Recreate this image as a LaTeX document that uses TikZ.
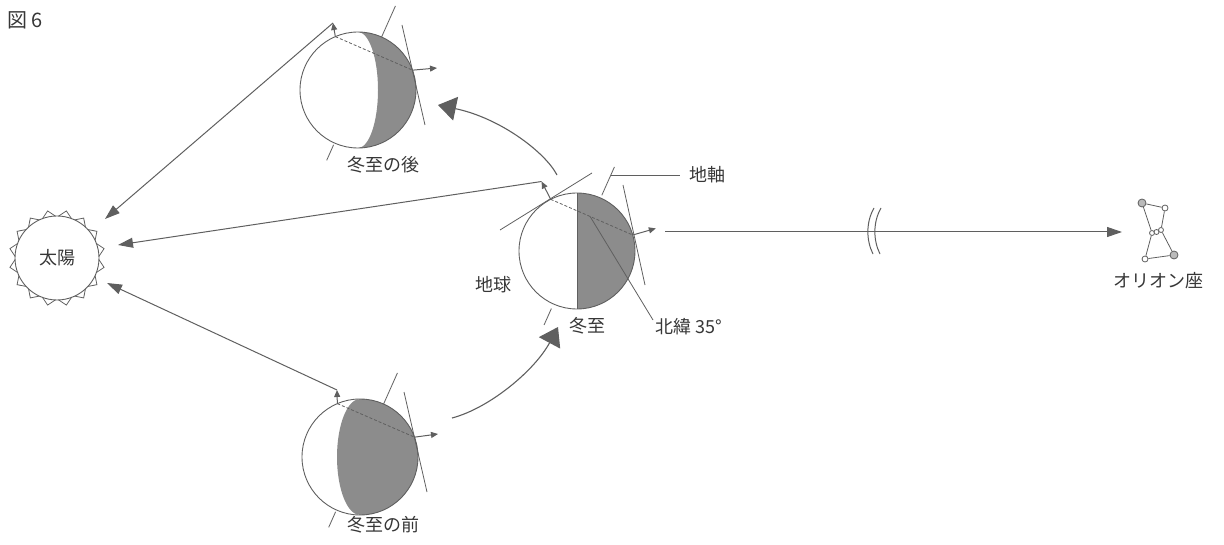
\documentclass[tikz,border=0pt]{standalone}
\usepackage{fontspec}
\newfontfamily\jp{Noto Sans CJK JP}
\usetikzlibrary{arrows.meta,calc}
\definecolor{ink}{RGB}{95,95,95}
\definecolor{nightside}{RGB}{140,140,140}
\definecolor{txt}{RGB}{55,55,55}
\tikzset{
  every node/.style={font=\jp\fontsize{18}{18}\selectfont, text=txt, inner sep=0pt},
  thinline/.style={draw=ink, line width=0.8pt},
  globe/.style={circle, draw=ink, line width=0.9pt, minimum size=116pt, inner sep=0pt},
  sunray/.style={draw=ink, line width=1pt, -{Triangle[length=15pt,width=10pt]}},
  zenith/.style={draw=ink, line width=1pt, -{Triangle[length=7pt,width=6pt]}},
  orbit/.style={draw=ink, line width=1.1pt, -{Triangle[length=18pt,width=24pt]}},
  latline/.style={draw=ink, line width=0.8pt, dash pattern=on 3pt off 2pt},
  stardot/.style={circle, draw=ink, line width=0.8pt, minimum size=6pt, inner sep=0pt, fill=white},
  bigstar/.style={stardot, minimum size=8pt, fill=nightside!60},
}
\begin{document}
\begin{tikzpicture}[x=1pt,y=1pt]
\path[use as bounding box] (0,0) rectangle (1224,-545);

% figure number
\node[anchor=west, font=\jp\fontsize{20}{20}\selectfont] (fignum) at (7,-20) {図 6};

% ---- the Sun ----
\begin{scope}[shift={(57,-258)}]
  \foreach \a in {11.25,33.75,56.25,78.75}
    \draw[thinline] (\a:48) -- (\a+90:48) -- (\a+180:48) -- (\a+270:48) -- cycle;
\end{scope}
\node[circle, draw=ink, line width=0.9pt, fill=white, minimum size=84pt] (sun) at (57,-258) {太陽};
\coordinate (sunU) at (105,-219);
\coordinate (sunM) at (118,-245);
\coordinate (sunL) at (107,-283);

% ---- Earth after the solstice (upper) ----
\begin{scope}[shift={(358,-90)}]
  \fill[nightside] (0,58) arc[start angle=90,end angle=-90,radius=58]
               arc[start angle=-90,end angle=90,x radius=20,y radius=58] -- cycle;
  \node[globe] (earthU) at (0,0) {};
  \draw[thinline] (66:58) -- (66:92);
  \draw[thinline] (246:60) -- (246:77);
  \draw[thinline] (44,65) -- (67,-35);
  \coordinate (uN) at (113:58);
  \coordinate (uM) at (20:58);
  \coordinate (uZ) at (-25,67);
  \coordinate (uE) at (79,22);
  \draw[latline] (uN) -- (uM);
  \draw[zenith] (uN) -- (uZ);
  \draw[zenith] (uM) -- (uE);
\end{scope}

% ---- Earth at the winter solstice (middle) ----
\begin{scope}[shift={(577,-251)}]
  \fill[nightside] (0,58) arc[start angle=90,end angle=-90,radius=58] -- cycle;
  \node[globe] (earthM) at (0,0) {};
  \draw[thinline] (0,58) -- (0,-58);
  \draw[thinline] (66:61) -- (66:92);
  \draw[thinline] (246:63) -- (246:81);
  \draw[thinline] (-77,21) -- (15,78);
  \draw[thinline] (46,66) -- (68,-34);
  \coordinate (mN) at (117:58);
  \coordinate (mM) at (16:58);
  \coordinate (mZ) at (117:78);
  \coordinate (mE) at (16:82);
  \draw[latline] (mN) -- (mM);
  \draw[zenith] (mN) -- (mZ);
  \draw[zenith] (mM) -- (mE);
  \coordinate (axisTip) at (34,76);
  \coordinate (axisEnd) at (103,76);
  \coordinate (latPt) at ($(mN)!0.48!(mM)$);
  \coordinate (latEnd) at (76,-69);
  \draw[thinline] (axisTip) -- (axisEnd);
  \draw[thinline] (latPt) -- (latEnd);
\end{scope}

% ---- Earth before the solstice (lower) ----
\begin{scope}[shift={(360,-457)}]
  \fill[nightside] (0,58) arc[start angle=90,end angle=-90,radius=58]
               arc[start angle=270,end angle=90,x radius=23,y radius=58] -- cycle;
  \node[globe] (earthL) at (0,0) {};
  \draw[thinline] (66:58) -- (66:92);
  \draw[thinline] (246:60) -- (246:77);
  \draw[thinline] (44,65) -- (67,-35);
  \coordinate (lN) at (113:58);
  \coordinate (lM) at (20:58);
  \coordinate (lZ) at (-23,67);
  \coordinate (lE) at (78,23);
  \draw[latline] (lN) -- (lM);
  \draw[zenith] (lN) -- (lZ);
  \draw[zenith] (lM) -- (lE);
\end{scope}

% ---- rays toward the Sun ----
\draw[sunray] (uZ) -- (sunU);
\draw[sunray] (mZ) -- (sunM);
\draw[sunray] (lZ) -- (sunL);

% ---- orbital motion ----
\coordinate (orbA) at (452,-418);
\coordinate (orbB) at (558,-327);
\coordinate (orbC) at (557,-175);
\coordinate (orbD) at (438,-105);
\draw[orbit] (orbA) .. controls (490,-408) and (535,-370) .. (orbB);
\draw[orbit] (orbC) .. controls (545,-152) and (500,-118) .. (orbD);

% ---- line of sight to Orion, with a break mark ----
\coordinate (sightA) at (665,-232);
\coordinate (sightB) at (1122,-232);
\draw[sunray] (sightA) -- (sightB);
\draw[thinline, line width=1pt] (874,-208) .. controls (866,-222) and (866,-240) .. (873,-254);
\draw[thinline, line width=1pt] (881,-208) .. controls (873,-222) and (873,-240) .. (880,-254);

% ---- Orion ----
\node[bigstar] (betel) at (1142,-203) {};
\node[stardot] (bella) at (1165,-208) {};
\node[stardot, minimum size=5pt] (belt1) at (1152,-233) {};
\node[stardot, minimum size=5pt] (belt2) at (1156.5,-232) {};
\node[stardot, minimum size=5pt] (belt3) at (1161,-230) {};
\node[stardot] (saiph) at (1145,-259) {};
\node[bigstar] (rigel) at (1174,-255) {};
\draw[thinline] (betel) -- (bella);
\draw[thinline] (betel) -- (belt1);
\draw[thinline] (bella) -- (belt3);
\draw[thinline] (belt1) -- (saiph);
\draw[thinline] (belt3) -- (rigel);
\draw[thinline] (saiph) -- (rigel);

% ---- labels ----
\node (lblAfter) at (383,-165) {冬至の後};
\node (lblBefore) at (383,-525) {冬至の前};
\node (lblSol) at (587,-326) {冬至};
\node (lblEarth) at (493,-285) {地球};
\node[anchor=west] (lblLat) at (655,-327) {北緯 35°};
\node[anchor=west] (lblAxis) at (689,-175) {地軸};
\node (lblOrion) at (1158,-281) {オリオン座};
\end{tikzpicture}
\end{document}
